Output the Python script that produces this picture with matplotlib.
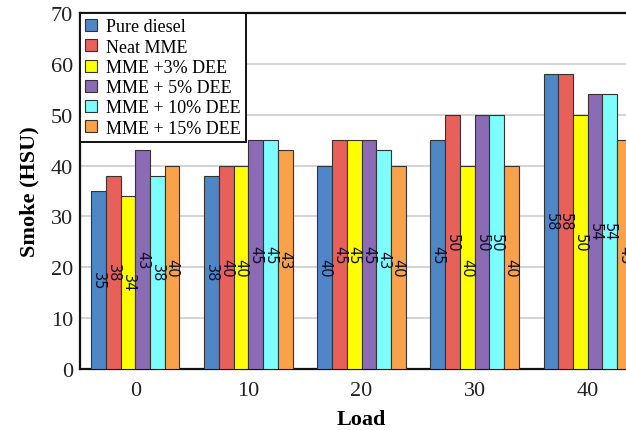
import matplotlib
matplotlib.use('Agg')
import matplotlib.pyplot as plt
import numpy as np

loads = ['0', '10', '20', '30', '40']
series = ['Pure diesel', 'Neat MME', 'MME +3% DEE', 'MME + 5% DEE',
          'MME + 10% DEE', 'MME + 15% DEE']
pure_diesel = [35, 38, 40, 45, 58]
neat_mme = [38, 40, 45, 50, 58]
mme_3dee = [34, 40, 45, 40, 50]
mme_5dee = [43, 45, 45, 50, 54]
mme_10dee = [38, 45, 43, 50, 54]
mme_15dee = [40, 43, 40, 40, 45]
values = [pure_diesel, neat_mme, mme_3dee, mme_5dee, mme_10dee, mme_15dee]
colors = ['#4F86C6', '#E8605A', '#FFFF00', '#8A6BB4', '#7DFDFD', '#F9A24A']

serif = 'Liberation Serif'

fig = plt.figure(figsize=(6.26, 4.31), dpi=100)
ax = fig.add_axes([80 / 626, 61 / 431, 563 / 626, 356 / 431])

x = np.arange(len(loads))
w = 0.13
for i in range(len(series)):
    xs = x + (i - 2.5) * w
    ax.bar(xs, values[i], w, color=colors[i], edgecolor='#333333',
           linewidth=0.8, label=series[i], zorder=3)
    for xi, v in zip(xs, values[i]):
        ax.text(xi, v / 2.0, str(v), rotation=-90, ha='center', va='center',
                fontsize=10.5, family='DejaVu Sans', color='#10102a', zorder=4)

ax.set_xlim(-0.49, 4.49)
ax.set_ylim(0, 70)
ax.set_yticks(range(0, 71, 10))
ax.set_xticks(x)
ax.set_xticklabels(loads)
ax.tick_params(length=0, labelsize=16, pad=5)
ax.tick_params(axis='x', pad=9)
for lab in ax.get_xticklabels() + ax.get_yticklabels():
    lab.set_family(serif)
    lab.set_color('#222222')
ax.yaxis.grid(True, color='#d4d4d4', linewidth=1.4, zorder=0)
ax.set_axisbelow(True)
for s in ax.spines.values():
    s.set_linewidth(1.6)
    s.set_color('#111111')

ax.set_ylabel('Smoke (HSU)', family=serif, fontweight='bold', fontsize=16,
              labelpad=8)
ax.set_xlabel('Load', family=serif, fontweight='bold', fontsize=16, labelpad=6)

leg = ax.legend(loc='upper left', bbox_to_anchor=(0, 1), borderaxespad=0,
                prop={'family': serif, 'size': 13}, fancybox=False,
                edgecolor='#111111', framealpha=1, handlelength=0.65,
                handleheight=0.65, handletextpad=0.5, labelspacing=0.18,
                borderpad=0.3)
leg.get_frame().set_linewidth(1.4)

fig.savefig('out.png', dpi=100)
